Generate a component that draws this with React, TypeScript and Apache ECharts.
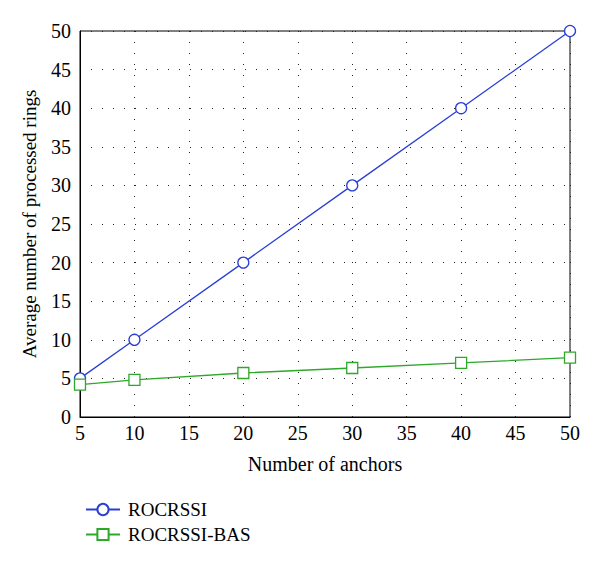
import React, { useEffect, useRef } from "react";
import * as echarts from "echarts";

const anchors = [5, 10, 20, 30, 40, 50];
const rocrssi = [5, 10, 20, 30, 40, 50];
const rocrssiBas = [4.2, 4.8, 5.7, 6.35, 7.0, 7.7];
const seriesNames = ["ROCRSSI", "ROCRSSI-BAS"];
const xTitle = "Number of anchors";
const yTitle = "Average number of processed rings";

const FONT = "Liberation Serif, serif";

export default function App() {
  const ref = useRef<HTMLDivElement>(null);
  useEffect(() => {
    if (!ref.current) return;
    const chart = echarts.init(ref.current, undefined, { renderer: "svg" });
    const split = { show: true, lineStyle: { color: "#222", type: [1, 10] as any, width: 1 } };
    chart.setOption({
      animation: false,
      backgroundColor: "#fff",
      textStyle: { fontFamily: FONT },
      grid: { left: 80, right: 30, top: 31, bottom: 147, show: true, borderColor: "#000", borderWidth: 1, backgroundColor: "transparent" },
      legend: {
        orient: "vertical",
        left: 80,
        top: 495,
        itemGap: 6,
        itemWidth: 34,
        itemHeight: 14,
        textStyle: { fontFamily: FONT, fontSize: 19, color: "#000", padding: [0, 0, 0, 3] },
        data: seriesNames,
      },
      xAxis: {
        type: "value",
        min: 5,
        max: 50,
        interval: 5,
        name: xTitle,
        nameLocation: "middle",
        nameGap: 37,
        nameTextStyle: { fontFamily: FONT, fontSize: 20, color: "#000" },
        axisLine: { lineStyle: { color: "#000" } },
        axisTick: { show: false },
        axisLabel: { fontFamily: FONT, fontSize: 20, color: "#000", margin: 6 },
        splitLine: split,
      },
      yAxis: {
        type: "value",
        min: 0,
        max: 50,
        interval: 5,
        name: yTitle,
        nameLocation: "middle",
        nameGap: 41,
        nameTextStyle: { fontFamily: FONT, fontSize: 19, color: "#000" },
        axisLine: { show: true, lineStyle: { color: "#000" } },
        axisTick: { show: false },
        axisLabel: { fontFamily: FONT, fontSize: 20, color: "#000", margin: 9 },
        splitLine: split,
      },
      series: [
        {
          name: seriesNames[0],
          type: "line",
          data: anchors.map((x, i) => [x, rocrssi[i]]),
          symbol: "circle",
          symbolSize: 11,
          itemStyle: { color: "#fff", borderColor: "#2a3fd6", borderWidth: 1.3 },
          lineStyle: { color: "#2a3fd6", width: 1.3 },
          color: "#2a3fd6",
        },
        {
          name: seriesNames[1],
          type: "line",
          data: anchors.map((x, i) => [x, rocrssiBas[i]]),
          symbol: "rect",
          symbolSize: 11,
          itemStyle: { color: "#fff", borderColor: "#2ea82a", borderWidth: 1.3 },
          lineStyle: { color: "#2ea82a", width: 1.3 },
          color: "#2ea82a",
        },
      ],
    });
    return () => chart.dispose();
  }, []);
  return <div ref={ref} style={{ width: 600, height: 564, position: "absolute", left: 0, top: 0 }} />;
}
